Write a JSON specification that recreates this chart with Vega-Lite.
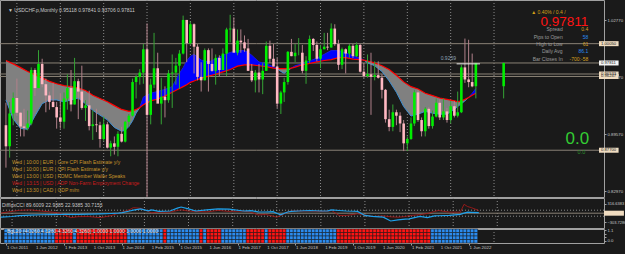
{
"$schema": "https://vega.github.io/schema/vega-lite/v6.json",
"background": "#1a1a1a",
"padding": {"left": 0, "top": 0, "right": 625, "bottom": 254},
"autosize": {"type": "none"},
"spacing": 1,
"bounds": "flush",
"config": {"view": {"stroke": "#a0a0a0", "fill": "#1a1a1a"}, "text": {"font": "Liberation Sans"}, "axis": {"labelFont": "Liberation Sans"}},
"datasets": {
"grid": [{"d":"2012-01-01"},{"d":"2013-01-01"},{"d":"2014-01-01"},{"d":"2015-01-01"},{"d":"2016-01-01"},{"d":"2017-01-01"},{"d":"2018-01-01"},{"d":"2019-01-01"},{"d":"2020-01-01"},{"d":"2021-01-01"},{"d":"2022-01-01"},{"d":"2023-01-01"}],
"xl": [{"d":"2011-10-01","t":"1 Oct 2011"},{"d":"2012-06-01","t":"1 Jun 2012"},{"d":"2013-02-01","t":"1 Feb 2013"},{"d":"2013-10-01","t":"1 Oct 2013"},{"d":"2014-06-01","t":"1 Jun 2014"},{"d":"2015-02-01","t":"1 Feb 2015"},{"d":"2015-10-01","t":"1 Oct 2015"},{"d":"2016-06-01","t":"1 Jun 2016"},{"d":"2017-02-01","t":"1 Feb 2017"},{"d":"2017-10-01","t":"1 Oct 2017"},{"d":"2018-06-01","t":"1 Jun 2018"},{"d":"2019-02-01","t":"1 Feb 2019"},{"d":"2019-10-01","t":"1 Oct 2019"},{"d":"2020-06-01","t":"1 Jun 2020"},{"d":"2021-02-01","t":"1 Feb 2021"},{"d":"2021-10-01","t":"1 Oct 2021"},{"d":"2022-06-01","t":"1 Jun 2022"}],
"levels": [{"p":1.0005},{"p":0.97811},{"p":0.96533},{"p":0.96247},{"p":0.87700}],
"hl": [{"p":1.0005,"t":"1.00050","k":"a"},{"p":0.97811,"t":"0.97811","k":"w"},{"p":0.96533,"t":"0.96533","k":"a"},{"p":0.96247,"t":"0.96247","k":"a"},{"p":0.877,"t":"0.87700","k":"a"}],
"notes": [{"k":"title","t":"▼ USDCHF.p,Monthly  0.95118 0.97841 0.93706 0.97811"},{"k":"chg","t":"▲ 0.40% / 0.4 /"},{"k":"px","t":"0.97811"},{"k":"lvl","t":"0.9259"},{"k":"z1","t":"0.0"},{"k":"z2","t":"0.0"},{"k":"cci","t":"DiffIdxCCI 89.6009 22.9385 22.9385 30.7153"},{"k":"heat","t":"BgL20 (4.0260,4.3260,4.3260,4.3260) 1.0000 1.0000 1.0000 1.0000"}],
"news": [{"n":1,"t":"Wed  |  10:00  |  EUR  |  Core CPI Flash Estimate y/y","hi":false},{"n":2,"t":"Wed  |  10:00  |  EUR  |  CPI Flash Estimate y/y","hi":false},{"n":3,"t":"Wed  |  13:00  |  USD  |  FOMC Member Waller Speaks","hi":false},{"n":4,"t":"Wed  |  13:15  |  USD  |  ADP Non-Farm Employment Change","hi":true},{"n":5,"t":"Wed  |  13:30  |  CAD  |  GDP m/m","hi":false}],
"info": [{"n":1,"k":"Spread","v":"0.4","col":"g"},{"n":2,"k":"Pips to Open","v":"58","col":"b"},{"n":3,"k":"High to Low","v":"61","col":"g"},{"n":4,"k":"Daily Avg","v":"86.1","col":"b"},{"n":5,"k":"Bar Closes In","v":"-700:-58","col":"g"}],
"seg": [{"d1":"2022-02-20","d2":"2022-09-05","p":0.9771}],
"band": [
{"d":"2011-10-01","r":0.9810,"b":0.9353,"g":1,"t":"bear"},
{"d":"2011-12-01","r":0.9771,"b":0.9133,"g":1,"t":"bear"},
{"d":"2012-02-01","r":0.9727,"b":0.9023,"g":1,"t":"bear"},
{"d":"2012-04-01","r":0.9683,"b":0.9012,"g":1,"t":"bear"},
{"d":"2012-06-01","r":0.9645,"b":0.9166,"g":1,"t":"bear"},
{"d":"2012-08-01","r":0.9606,"b":0.9309,"g":1,"t":"bear"},
{"d":"2012-10-01","r":0.9568,"b":0.9353,"g":1,"t":"bear"},
{"d":"2012-12-01","r":0.9540,"b":0.9353,"g":1,"t":"bear"},
{"d":"2013-02-01","r":0.9518,"b":0.9331,"g":1,"t":"bear"},
{"d":"2013-04-01","r":0.9507,"b":0.9353,"g":1,"t":"bear"},
{"d":"2013-06-01","r":0.9491,"b":0.9375,"g":1,"t":"bear"},
{"d":"2013-08-01","r":0.9463,"b":0.9309,"g":1,"t":"bear"},
{"d":"2013-10-01","r":0.9408,"b":0.9232,"g":1,"t":"bear"},
{"d":"2013-12-01","r":0.9370,"b":0.9177,"g":1,"t":"bear"},
{"d":"2014-02-01","r":0.9331,"b":0.9122,"g":1,"t":"bear"},
{"d":"2014-04-01","r":0.9287,"b":0.9034,"g":1,"t":"bear"},
{"d":"2014-06-01","r":0.9243,"b":0.8990,"g":1,"t":"bear"},
{"d":"2014-07-01","r":0.9232,"b":0.9001,"g":1,"t":"bear"},
{"d":"2014-08-01","r":0.9221,"b":0.9045,"g":1,"t":"bear"},
{"d":"2014-09-01","r":0.9227,"b":0.9111,"g":1,"t":"bear"},
{"d":"2014-10-01","r":0.9243,"b":0.9199,"g":1,"t":"bear"},
{"d":"2014-11-01","r":0.9265,"b":0.9265,"g":1,"t":"bear"},
{"d":"2014-11-01","r":0.9265,"b":0.9265,"g":2,"t":"bull"},
{"d":"2014-12-01","r":0.9298,"b":0.9386,"g":2,"t":"bull"},
{"d":"2015-02-01","r":0.9342,"b":0.9430,"g":2,"t":"bull"},
{"d":"2015-04-01","r":0.9364,"b":0.9452,"g":2,"t":"bull"},
{"d":"2015-06-01","r":0.9397,"b":0.9474,"g":2,"t":"bull"},
{"d":"2015-08-01","r":0.9441,"b":0.9507,"g":2,"t":"bull"},
{"d":"2015-10-01","r":0.9485,"b":0.9661,"g":2,"t":"bull"},
{"d":"2015-11-01","r":0.9507,"b":0.9727,"g":2,"t":"bull"},
{"d":"2015-12-01","r":0.9529,"b":0.9804,"g":2,"t":"bull"},
{"d":"2016-01-01","r":0.9557,"b":0.9859,"g":2,"t":"bull"},
{"d":"2016-02-01","r":0.9573,"b":0.9881,"g":2,"t":"bull"},
{"d":"2016-04-01","r":0.9606,"b":0.9815,"g":2,"t":"bull"},
{"d":"2016-06-01","r":0.9628,"b":0.9793,"g":2,"t":"bull"},
{"d":"2016-08-01","r":0.9650,"b":0.9826,"g":2,"t":"bull"},
{"d":"2016-10-01","r":0.9678,"b":0.9870,"g":2,"t":"bull"},
{"d":"2016-12-01","r":0.9705,"b":0.9903,"g":2,"t":"bull"},
{"d":"2017-02-01","r":0.9744,"b":0.9925,"g":2,"t":"bull"},
{"d":"2017-04-01","r":0.9760,"b":0.9925,"g":2,"t":"bull"},
{"d":"2017-05-01","r":0.9760,"b":0.9903,"g":2,"t":"bull"},
{"d":"2017-06-01","r":0.9760,"b":0.9870,"g":2,"t":"bull"},
{"d":"2017-08-01","r":0.9749,"b":0.9793,"g":2,"t":"bull"},
{"d":"2017-10-01","r":0.9738,"b":0.9771,"g":2,"t":"bull"},
{"d":"2017-12-01","r":0.9722,"b":0.9738,"g":2,"t":"bull"},
{"d":"2018-01-01","r":0.9716,"b":0.9716,"g":2,"t":"bull"},
{"d":"2018-01-01","r":0.9716,"b":0.9716,"g":3,"t":"bear"},
{"d":"2018-02-01","r":0.9716,"b":0.9683,"g":3,"t":"bear"},
{"d":"2018-03-01","r":0.9716,"b":0.9661,"g":3,"t":"bear"},
{"d":"2018-04-01","r":0.9716,"b":0.9694,"g":3,"t":"bear"},
{"d":"2018-05-01","r":0.9722,"b":0.9722,"g":3,"t":"bear"},
{"d":"2018-05-01","r":0.9722,"b":0.9722,"g":4,"t":"bull"},
{"d":"2018-06-01","r":0.9733,"b":0.9749,"g":4,"t":"bull"},
{"d":"2018-08-01","r":0.9760,"b":0.9771,"g":4,"t":"bull"},
{"d":"2018-10-01","r":0.9777,"b":0.9804,"g":4,"t":"bull"},
{"d":"2018-12-01","r":0.9793,"b":0.9837,"g":4,"t":"bull"},
{"d":"2019-02-01","r":0.9810,"b":0.9881,"g":4,"t":"bull"},
{"d":"2019-04-01","r":0.9821,"b":0.9925,"g":4,"t":"bull"},
{"d":"2019-06-01","r":0.9843,"b":0.9925,"g":4,"t":"bull"},
{"d":"2019-08-01","r":0.9843,"b":0.9898,"g":4,"t":"bull"},
{"d":"2019-10-01","r":0.9826,"b":0.9865,"g":4,"t":"bull"},
{"d":"2019-12-01","r":0.9821,"b":0.9837,"g":4,"t":"bull"},
{"d":"2020-01-01","r":0.9815,"b":0.9815,"g":4,"t":"bull"},
{"d":"2020-01-01","r":0.9815,"b":0.9815,"g":5,"t":"bear"},
{"d":"2020-02-01","r":0.9804,"b":0.9782,"g":5,"t":"bear"},
{"d":"2020-04-01","r":0.9782,"b":0.9749,"g":5,"t":"bear"},
{"d":"2020-06-01","r":0.9749,"b":0.9683,"g":5,"t":"bear"},
{"d":"2020-08-01","r":0.9705,"b":0.9573,"g":5,"t":"bear"},
{"d":"2020-10-01","r":0.9639,"b":0.9441,"g":5,"t":"bear"},
{"d":"2020-12-01","r":0.9562,"b":0.9276,"g":5,"t":"bear"},
{"d":"2021-02-01","r":0.9507,"b":0.9166,"g":5,"t":"bear"},
{"d":"2021-04-01","r":0.9480,"b":0.9188,"g":5,"t":"bear"},
{"d":"2021-06-01","r":0.9430,"b":0.9221,"g":5,"t":"bear"},
{"d":"2021-08-01","r":0.9403,"b":0.9199,"g":5,"t":"bear"},
{"d":"2021-10-01","r":0.9375,"b":0.9188,"g":5,"t":"bear"},
{"d":"2021-12-01","r":0.9359,"b":0.9188,"g":5,"t":"bear"},
{"d":"2022-02-01","r":0.9342,"b":0.9243,"g":5,"t":"bear"},
{"d":"2022-03-01","r":0.9331,"b":0.9276,"g":5,"t":"bear"},
{"d":"2022-04-01","r":0.9342,"b":0.9309,"g":5,"t":"bear"},
{"d":"2022-05-01","r":0.9359,"b":0.9342,"g":5,"t":"bear"},
{"d":"2022-06-01","r":0.9381,"b":0.9381,"g":5,"t":"bear"},
{"d":"2022-06-01","r":0.9381,"b":0.9381,"g":6,"t":"bull"},
{"d":"2022-07-01","r":0.9408,"b":0.9430,"g":6,"t":"bull"},
{"d":"2022-08-01","r":0.9430,"b":0.9485,"g":6,"t":"bull"}
],
"cci": [
{"d":"2011-10-01","b":-130,"r":5},{"d":"2012-01-01","b":-110,"r":60},{"d":"2012-03-01","b":-78,"r":95},{"d":"2012-06-01","b":-65,"r":110},{"d":"2012-09-01","b":-52,"r":70},{"d":"2012-12-01","b":-45,"r":35},{"d":"2013-02-01","b":-38,"r":0},{"d":"2013-05-01","b":-38,"r":-149},{"d":"2013-07-01","b":-38,"r":-115},{"d":"2013-10-01","b":-30,"r":-111},{"d":"2014-01-01","b":-22,"r":-149},{"d":"2014-04-01","b":-10,"r":-80},{"d":"2014-06-01","b":0,"r":0},{"d":"2014-07-01","b":20,"r":35},{"d":"2014-09-01","b":73,"r":120},{"d":"2014-10-01","b":100,"r":184},{"d":"2014-12-01","b":146,"r":162},{"d":"2015-02-01","b":80,"r":60},{"d":"2015-03-01","b":111,"r":13},{"d":"2015-05-01","b":58,"r":35},{"d":"2015-08-01","b":73,"r":35},{"d":"2015-10-01","b":170,"r":90},{"d":"2015-11-01","b":206,"r":111},{"d":"2016-01-01","b":146,"r":70},{"d":"2016-03-01","b":73,"r":58},{"d":"2016-06-01","b":111,"r":45},{"d":"2016-09-01","b":146,"r":90},{"d":"2016-12-01","b":133,"r":60},{"d":"2017-04-01","b":73,"r":70},{"d":"2017-06-01","b":85,"r":35},{"d":"2017-08-01","b":45,"r":-60},{"d":"2017-10-01","b":40,"r":-40},{"d":"2017-12-01","b":51,"r":-100},{"d":"2018-01-01","b":0,"r":-133},{"d":"2018-02-01","b":-55,"r":-80},{"d":"2018-04-01","b":40,"r":35},{"d":"2018-05-01","b":62,"r":73},{"d":"2018-07-01","b":73,"r":73},{"d":"2018-10-01","b":89,"r":73},{"d":"2019-01-01","b":73,"r":62},{"d":"2019-03-01","b":80,"r":73},{"d":"2019-04-01","b":111,"r":89},{"d":"2019-06-01","b":90,"r":-75},{"d":"2019-08-01","b":73,"r":-75},{"d":"2019-10-01","b":65,"r":-40},{"d":"2019-11-01","b":58,"r":-16},{"d":"2020-01-01","b":-75,"r":-60},{"d":"2020-03-01","b":-105,"r":-111},{"d":"2020-06-01","b":-133,"r":-89},{"d":"2020-08-01","b":-259,"r":-120},{"d":"2020-10-01","b":-222,"r":-133},{"d":"2020-12-01","b":-200,"r":-111},{"d":"2021-01-01","b":-190,"r":-80},{"d":"2021-04-01","b":-104,"r":-49},{"d":"2021-06-01","b":-149,"r":-10},{"d":"2021-08-01","b":-89,"r":60},{"d":"2021-09-01","b":-85,"r":89},{"d":"2021-12-01","b":-75,"r":35},{"d":"2022-03-01","b":-38,"r":35},{"d":"2022-04-01","b":0,"r":295},{"d":"2022-05-01","b":35,"r":220},{"d":"2022-06-01","b":30,"r":184},{"d":"2022-08-01","b":22,"r":89}
],
"lv": [{"v":100,"k":"d"},{"v":-100,"k":"d"},{"v":0,"k":"z"}],
"c": [
{"d":"2011-10-01","o":0.9060,"h":0.9320,"l":0.8568,"c":0.8815,"hm":"B"},
{"d":"2011-11-01","o":0.8815,"h":0.9330,"l":0.8685,"c":0.9195,"hm":"B"},
{"d":"2011-12-01","o":0.9195,"h":0.9440,"l":0.9060,"c":0.9375,"hm":"B"},
{"d":"2012-01-01","o":0.9375,"h":0.9600,"l":0.9170,"c":0.9205,"hm":"B"},
{"d":"2012-02-01","o":0.9205,"h":0.9210,"l":0.8930,"c":0.9045,"hm":"B"},
{"d":"2012-03-01","o":0.9045,"h":0.9250,"l":0.8930,"c":0.9030,"hm":"B"},
{"d":"2012-04-01","o":0.9030,"h":0.9230,"l":0.9000,"c":0.9080,"hm":"B"},
{"d":"2012-05-01","o":0.9080,"h":0.9730,"l":0.9060,"c":0.9700,"hm":"B"},
{"d":"2012-06-01","o":0.9700,"h":0.9720,"l":0.9400,"c":0.9490,"hm":"B"},
{"d":"2012-07-01","o":0.9490,"h":0.9930,"l":0.9490,"c":0.9770,"hm":"B"},
{"d":"2012-08-01","o":0.9770,"h":0.9830,"l":0.9500,"c":0.9535,"hm":"B"},
{"d":"2012-09-01","o":0.9535,"h":0.9600,"l":0.9210,"c":0.9405,"hm":"B"},
{"d":"2012-10-01","o":0.9405,"h":0.9450,"l":0.9240,"c":0.9330,"hm":"B"},
{"d":"2012-11-01","o":0.9330,"h":0.9550,"l":0.9270,"c":0.9270,"hm":"B"},
{"d":"2012-12-01","o":0.9270,"h":0.9330,"l":0.9020,"c":0.9150,"hm":"R"},
{"d":"2013-01-01","o":0.9150,"h":0.9430,"l":0.9020,"c":0.9100,"hm":"R"},
{"d":"2013-02-01","o":0.9100,"h":0.9440,"l":0.9020,"c":0.9370,"hm":"R"},
{"d":"2013-03-01","o":0.9370,"h":0.9650,"l":0.9240,"c":0.9490,"hm":"R"},
{"d":"2013-04-01","o":0.9490,"h":0.9700,"l":0.9220,"c":0.9300,"hm":"R"},
{"d":"2013-05-01","o":0.9300,"h":0.9840,"l":0.9300,"c":0.9570,"hm":"B"},
{"d":"2013-06-01","o":0.9570,"h":0.9600,"l":0.9130,"c":0.9450,"hm":"R"},
{"d":"2013-07-01","o":0.9450,"h":0.9750,"l":0.9240,"c":0.9260,"hm":"R"},
{"d":"2013-08-01","o":0.9260,"h":0.9350,"l":0.9110,"c":0.9290,"hm":"R"},
{"d":"2013-09-01","o":0.9290,"h":0.9460,"l":0.9000,"c":0.9050,"hm":"R"},
{"d":"2013-10-01","o":0.9050,"h":0.9230,"l":0.8890,"c":0.9070,"hm":"R"},
{"d":"2013-11-01","o":0.9070,"h":0.9250,"l":0.8980,"c":0.9060,"hm":"R"},
{"d":"2013-12-01","o":0.9060,"h":0.9100,"l":0.8800,"c":0.8900,"hm":"R"},
{"d":"2014-01-01","o":0.8900,"h":0.9160,"l":0.8880,"c":0.9070,"hm":"R"},
{"d":"2014-02-01","o":0.9070,"h":0.9100,"l":0.8790,"c":0.8800,"hm":"R"},
{"d":"2014-03-01","o":0.8800,"h":0.8880,"l":0.8700,"c":0.8850,"hm":"R"},
{"d":"2014-04-01","o":0.8850,"h":0.8930,"l":0.8720,"c":0.8810,"hm":"R"},
{"d":"2014-05-01","o":0.8810,"h":0.8990,"l":0.8700,"c":0.8960,"hm":"R"},
{"d":"2014-06-01","o":0.8960,"h":0.9040,"l":0.8860,"c":0.8870,"hm":"R"},
{"d":"2014-07-01","o":0.8870,"h":0.9110,"l":0.8860,"c":0.9100,"hm":"R"},
{"d":"2014-08-01","o":0.9100,"h":0.9190,"l":0.9040,"c":0.9170,"hm":"B"},
{"d":"2014-09-01","o":0.9170,"h":0.9600,"l":0.9160,"c":0.9560,"hm":"B"},
{"d":"2014-10-01","o":0.9560,"h":0.9640,"l":0.9370,"c":0.9620,"hm":"B"},
{"d":"2014-11-01","o":0.9620,"h":0.9710,"l":0.9530,"c":0.9670,"hm":"B"},
{"d":"2014-12-01","o":0.9670,"h":1.0000,"l":0.9540,"c":0.9940,"hm":"B"},
{"d":"2015-01-01","o":0.9940,"h":1.0240,"l":0.7300,"c":0.9180,"hm":"B"},
{"d":"2015-02-01","o":0.9180,"h":0.9600,"l":0.9070,"c":0.9530,"hm":"B"},
{"d":"2015-03-01","o":0.9530,"h":1.0130,"l":0.9490,"c":0.9720,"hm":"B"},
{"d":"2015-04-01","o":0.9720,"h":0.9900,"l":0.9330,"c":0.9310,"hm":"B"},
{"d":"2015-05-01","o":0.9310,"h":0.9610,"l":0.9070,"c":0.9390,"hm":"B"},
{"d":"2015-06-01","o":0.9390,"h":0.9510,"l":0.9150,"c":0.9350,"hm":"R"},
{"d":"2015-07-01","o":0.9350,"h":0.9700,"l":0.9320,"c":0.9660,"hm":"B"},
{"d":"2015-08-01","o":0.9660,"h":0.9880,"l":0.9260,"c":0.9670,"hm":"B"},
{"d":"2015-09-01","o":0.9670,"h":0.9840,"l":0.9530,"c":0.9750,"hm":"B"},
{"d":"2015-10-01","o":0.9750,"h":0.9930,"l":0.9480,"c":0.9890,"hm":"B"},
{"d":"2015-11-01","o":0.9890,"h":1.0330,"l":0.9880,"c":1.0280,"hm":"B"},
{"d":"2015-12-01","o":1.0280,"h":1.0280,"l":0.9790,"c":1.0010,"hm":"B"},
{"d":"2016-01-01","o":1.0010,"h":1.0260,"l":0.9990,"c":1.0230,"hm":"B"},
{"d":"2016-02-01","o":1.0230,"h":1.0240,"l":0.9660,"c":0.9970,"hm":"B"},
{"d":"2016-03-01","o":0.9970,"h":1.0000,"l":0.9580,"c":0.9620,"hm":"B"},
{"d":"2016-04-01","o":0.9620,"h":0.9790,"l":0.9450,"c":0.9580,"hm":"R"},
{"d":"2016-05-01","o":0.9580,"h":0.9950,"l":0.9580,"c":0.9930,"hm":"B"},
{"d":"2016-06-01","o":0.9930,"h":0.9950,"l":0.9450,"c":0.9770,"hm":"R"},
{"d":"2016-07-01","o":0.9770,"h":0.9950,"l":0.9680,"c":0.9690,"hm":"R"},
{"d":"2016-08-01","o":0.9690,"h":0.9880,"l":0.9530,"c":0.9840,"hm":"R"},
{"d":"2016-09-01","o":0.9840,"h":0.9870,"l":0.9630,"c":0.9700,"hm":"R"},
{"d":"2016-10-01","o":0.9700,"h":0.9950,"l":0.9700,"c":0.9890,"hm":"B"},
{"d":"2016-11-01","o":0.9890,"h":1.0190,"l":0.9630,"c":1.0170,"hm":"B"},
{"d":"2016-12-01","o":1.0170,"h":1.0340,"l":1.0020,"c":1.0180,"hm":"B"},
{"d":"2017-01-01","o":1.0180,"h":1.0310,"l":0.9950,"c":0.9900,"hm":"B"},
{"d":"2017-02-01","o":0.9900,"h":1.0170,"l":0.9870,"c":1.0040,"hm":"B"},
{"d":"2017-03-01","o":1.0040,"h":1.0170,"l":0.9900,"c":1.0020,"hm":"B"},
{"d":"2017-04-01","o":1.0020,"h":1.0100,"l":0.9910,"c":0.9950,"hm":"B"},
{"d":"2017-05-01","o":0.9950,"h":1.0060,"l":0.9690,"c":0.9690,"hm":"R"},
{"d":"2017-06-01","o":0.9690,"h":0.9770,"l":0.9560,"c":0.9580,"hm":"R"},
{"d":"2017-07-01","o":0.9580,"h":0.9700,"l":0.9440,"c":0.9670,"hm":"R"},
{"d":"2017-08-01","o":0.9670,"h":0.9770,"l":0.9440,"c":0.9590,"hm":"R"},
{"d":"2017-09-01","o":0.9590,"h":0.9780,"l":0.9420,"c":0.9690,"hm":"R"},
{"d":"2017-10-01","o":0.9690,"h":1.0030,"l":0.9690,"c":0.9980,"hm":"B"},
{"d":"2017-11-01","o":0.9980,"h":1.0040,"l":0.9780,"c":0.9830,"hm":"R"},
{"d":"2017-12-01","o":0.9830,"h":1.0000,"l":0.9740,"c":0.9740,"hm":"R"},
{"d":"2018-01-01","o":0.9740,"h":0.9840,"l":0.9260,"c":0.9310,"hm":"R"},
{"d":"2018-02-01","o":0.9310,"h":0.9460,"l":0.9190,"c":0.9440,"hm":"R"},
{"d":"2018-03-01","o":0.9440,"h":0.9610,"l":0.9330,"c":0.9560,"hm":"R"},
{"d":"2018-04-01","o":0.9560,"h":0.9920,"l":0.9530,"c":0.9910,"hm":"B"},
{"d":"2018-05-01","o":0.9910,"h":1.0060,"l":0.9860,"c":0.9860,"hm":"B"},
{"d":"2018-06-01","o":0.9860,"h":1.0000,"l":0.9790,"c":0.9900,"hm":"B"},
{"d":"2018-07-01","o":0.9900,"h":1.0070,"l":0.9870,"c":0.9900,"hm":"B"},
{"d":"2018-08-01","o":0.9900,"h":0.9990,"l":0.9660,"c":0.9690,"hm":"B"},
{"d":"2018-09-01","o":0.9690,"h":0.9860,"l":0.9540,"c":0.9810,"hm":"B"},
{"d":"2018-10-01","o":0.9810,"h":1.0100,"l":0.9780,"c":1.0060,"hm":"B"},
{"d":"2018-11-01","o":1.0060,"h":1.0070,"l":0.9920,"c":0.9990,"hm":"B"},
{"d":"2018-12-01","o":0.9990,"h":1.0030,"l":0.9800,"c":0.9830,"hm":"B"},
{"d":"2019-01-01","o":0.9830,"h":0.9990,"l":0.9720,"c":0.9940,"hm":"B"},
{"d":"2019-02-01","o":0.9940,"h":1.0130,"l":0.9940,"c":0.9970,"hm":"B"},
{"d":"2019-03-01","o":0.9970,"h":1.0130,"l":0.9930,"c":0.9960,"hm":"B"},
{"d":"2019-04-01","o":0.9960,"h":1.0240,"l":0.9960,"c":1.0180,"hm":"B"},
{"d":"2019-05-01","o":1.0180,"h":1.0230,"l":0.9980,"c":1.0000,"hm":"B"},
{"d":"2019-06-01","o":1.0000,"h":1.0050,"l":0.9700,"c":0.9760,"hm":"R"},
{"d":"2019-07-01","o":0.9760,"h":0.9960,"l":0.9710,"c":0.9940,"hm":"R"},
{"d":"2019-08-01","o":0.9940,"h":0.9950,"l":0.9660,"c":0.9890,"hm":"R"},
{"d":"2019-09-01","o":0.9890,"h":1.0000,"l":0.9840,"c":0.9980,"hm":"R"},
{"d":"2019-10-01","o":0.9980,"h":1.0000,"l":0.9840,"c":0.9860,"hm":"R"},
{"d":"2019-11-01","o":0.9860,"h":1.0020,"l":0.9850,"c":0.9990,"hm":"R"},
{"d":"2019-12-01","o":0.9990,"h":1.0000,"l":0.9670,"c":0.9680,"hm":"R"},
{"d":"2020-01-01","o":0.9680,"h":0.9780,"l":0.9610,"c":0.9630,"hm":"R"},
{"d":"2020-02-01","o":0.9630,"h":0.9880,"l":0.9610,"c":0.9650,"hm":"R"},
{"d":"2020-03-01","o":0.9650,"h":0.9900,"l":0.9180,"c":0.9620,"hm":"R"},
{"d":"2020-04-01","o":0.9620,"h":0.9800,"l":0.9580,"c":0.9640,"hm":"R"},
{"d":"2020-05-01","o":0.9640,"h":0.9800,"l":0.9600,"c":0.9610,"hm":"R"},
{"d":"2020-06-01","o":0.9610,"h":0.9650,"l":0.9370,"c":0.9470,"hm":"R"},
{"d":"2020-07-01","o":0.9470,"h":0.9480,"l":0.9090,"c":0.9130,"hm":"R"},
{"d":"2020-08-01","o":0.9130,"h":0.9240,"l":0.8990,"c":0.9040,"hm":"R"},
{"d":"2020-09-01","o":0.9040,"h":0.9300,"l":0.8990,"c":0.9210,"hm":"R"},
{"d":"2020-10-01","o":0.9210,"h":0.9240,"l":0.9060,"c":0.9170,"hm":"R"},
{"d":"2020-11-01","o":0.9170,"h":0.9210,"l":0.8980,"c":0.9080,"hm":"R"},
{"d":"2020-12-01","o":0.9080,"h":0.9120,"l":0.8760,"c":0.8850,"hm":"R"},
{"d":"2021-01-01","o":0.8850,"h":0.8930,"l":0.8760,"c":0.8900,"hm":"R"},
{"d":"2021-02-01","o":0.8900,"h":0.9150,"l":0.8890,"c":0.9080,"hm":"R"},
{"d":"2021-03-01","o":0.9080,"h":0.9470,"l":0.9050,"c":0.9440,"hm":"R"},
{"d":"2021-04-01","o":0.9440,"h":0.9470,"l":0.9100,"c":0.9120,"hm":"R"},
{"d":"2021-05-01","o":0.9120,"h":0.9150,"l":0.8930,"c":0.8990,"hm":"R"},
{"d":"2021-06-01","o":0.8990,"h":0.9270,"l":0.8930,"c":0.9250,"hm":"R"},
{"d":"2021-07-01","o":0.9250,"h":0.9270,"l":0.9020,"c":0.9050,"hm":"R"},
{"d":"2021-08-01","o":0.9050,"h":0.9230,"l":0.9020,"c":0.9160,"hm":"B"},
{"d":"2021-09-01","o":0.9160,"h":0.9370,"l":0.9150,"c":0.9320,"hm":"B"},
{"d":"2021-10-01","o":0.9320,"h":0.9360,"l":0.9120,"c":0.9150,"hm":"B"},
{"d":"2021-11-01","o":0.9150,"h":0.9370,"l":0.9120,"c":0.9220,"hm":"B"},
{"d":"2021-12-01","o":0.9220,"h":0.9260,"l":0.9090,"c":0.9120,"hm":"B"},
{"d":"2022-01-01","o":0.9120,"h":0.9340,"l":0.9080,"c":0.9280,"hm":"B"},
{"d":"2022-02-01","o":0.9280,"h":0.9340,"l":0.9150,"c":0.9170,"hm":"B"},
{"d":"2022-03-01","o":0.9170,"h":0.9450,"l":0.9150,"c":0.9210,"hm":"B"},
{"d":"2022-04-01","o":0.9210,"h":0.9760,"l":0.9200,"c":0.9730,"hm":"B"},
{"d":"2022-05-01","o":0.9730,"h":1.0064,"l":0.9550,"c":0.9590,"hm":"B"},
{"d":"2022-06-01","o":0.9590,"h":1.0050,"l":0.9500,"c":0.9560,"hm":"B"},
{"d":"2022-07-01","o":0.9560,"h":0.9890,"l":0.9500,"c":0.9510,"hm":"B"},
{"d":"2022-08-01","o":0.95118,"h":0.97841,"l":0.93706,"c":0.97811,"hm":"B"},
{"d":"2023-03-23","o":0.95118,"h":0.97841,"l":0.93706,"c":0.97811,"hm":null}
]
},
"vconcat": [
{
"width": 604, "height": 197,
"resolve": {"scale": {"y": "independent"}},
"layer": [
{"layer": [
{"data": {"name": "grid"}, "mark": {"type": "rule", "color": "#8c8c8c", "strokeDash": [1, 2], "strokeWidth": 1},
 "encoding": {"x": {"field": "d", "type": "temporal", "axis": null, "scale": {"type": "utc", "domain": [{"year": 2011, "month": 9, "date": 23, "utc": true}, {"year": 2025, "month": 6, "date": 3, "utc": true}]}}}},
{"data": {"name": "levels"}, "mark": {"type": "rule", "color": "#8a8276", "strokeWidth": 1},
 "encoding": {"y": {"field": "p", "type": "quantitative", "scale": {"domain": [0.8286, 1.0453], "nice": false, "zero": false},
   "axis": {"orient": "right", "values": [0.8297, 0.8462, 0.8627, 0.8792, 0.8957, 0.9122, 0.9287, 0.9452, 0.9617, 0.9782, 0.9947, 1.0112, 1.0277], "format": ".5f", "labelFontSize": 4.3, "labelColor": "#c8c8c8", "tickColor": "#a0a0a0", "tickSize": 2, "domain": false, "grid": false, "title": null, "labelPadding": 1, "labelOverlap": false}}}},
{"data": {"name": "band"}, "mark": {"type": "area", "clip": true},
 "encoding": {"x": {"field": "d", "type": "temporal"}, "y": {"field": "b", "type": "quantitative"}, "y2": {"field": "r"},
   "fill": {"field": "t", "type": "nominal", "scale": {"domain": ["bear", "bull"], "range": ["#808080", "#0000ff"]}, "legend": null},
   "detail": {"field": "g", "type": "nominal"}}},
{"data": {"name": "band"}, "mark": {"type": "line", "strokeWidth": 1, "clip": true},
 "encoding": {"x": {"field": "d", "type": "temporal"}, "y": {"field": "b", "type": "quantitative"},
   "stroke": {"field": "t", "type": "nominal", "scale": {"domain": ["bear", "bull"], "range": ["#3f8fd2", "#1818e0"]}, "legend": null},
   "detail": {"field": "g", "type": "nominal"}}},
{"data": {"name": "band"}, "mark": {"type": "line", "color": "#ff0000", "strokeWidth": 1.2, "clip": true},
 "encoding": {"x": {"field": "d", "type": "temporal"}, "y": {"field": "r", "type": "quantitative"}}},
{"data": {"name": "c"}, "mark": {"type": "rule", "strokeWidth": 1, "clip": true},
 "encoding": {"x": {"field": "d", "type": "temporal"}, "y": {"field": "l", "type": "quantitative"}, "y2": {"field": "h"},
   "stroke": {"condition": {"test": "datum.c >= datum.o", "value": "#35a335"}, "value": "#b0808a"}}},
{"data": {"name": "c"}, "mark": {"type": "bar", "width": 2.6, "clip": true},
 "encoding": {"x": {"field": "d", "type": "temporal"}, "y": {"field": "o", "type": "quantitative"}, "y2": {"field": "c"},
   "fill": {"condition": {"test": "datum.c >= datum.o", "value": "#00ee00"}, "value": "#ffb8c2"}}},
{"data": {"name": "seg"}, "mark": {"type": "rule", "color": "#e8e8e8", "strokeWidth": 1},
 "encoding": {"x": {"field": "d1", "type": "temporal"}, "x2": {"field": "d2"}, "y": {"field": "p", "type": "quantitative"}}},
{"data": {"name": "notes"}, "transform": [{"filter": "datum.k == 'title'"}], "mark": {"type": "text", "align": "left", "baseline": "middle", "fontSize": 5, "fill": "#c8c8c8"},
 "encoding": {"x": {"datum": {"year": 2011, "month": 10, "date": 18, "utc": true}, "type": "temporal"}, "y": {"datum": 1.0398, "type": "quantitative"}, "text": {"field": "t"}}},
{"data": {"name": "notes"}, "transform": [{"filter": "datum.k == 'chg'"}], "mark": {"type": "text", "align": "left", "baseline": "middle", "fontSize": 5, "fill": "#d4a017"},
 "encoding": {"x": {"datum": {"year": 2023, "month": 11, "date": 10, "utc": true}, "type": "temporal"}, "y": {"datum": 1.0376, "type": "quantitative"}, "text": {"field": "t"}}},
{"data": {"name": "notes"}, "transform": [{"filter": "datum.k == 'px'"}], "mark": {"type": "text", "align": "right", "baseline": "middle", "fontSize": 13.5, "fill": "#ff1414"},
 "encoding": {"x": {"datum": {"year": 2025, "month": 3, "date": 4, "utc": true}, "type": "temporal"}, "y": {"datum": 1.0261, "type": "quantitative"}, "text": {"field": "t"}}},
{"data": {"name": "notes"}, "transform": [{"filter": "datum.k == 'lvl'"}], "mark": {"type": "text", "align": "left", "baseline": "middle", "fontSize": 5, "fill": "#90a2b6"},
 "encoding": {"x": {"datum": {"year": 2021, "month": 10, "date": 9, "utc": true}, "type": "temporal"}, "y": {"datum": 0.9837, "type": "quantitative"}, "text": {"field": "t"}}},
{"data": {"name": "notes"}, "transform": [{"filter": "datum.k == 'z1'"}], "mark": {"type": "text", "align": "right", "baseline": "middle", "fontSize": 17, "fill": "#33cc33"},
 "encoding": {"x": {"datum": {"year": 2025, "month": 3, "date": 12, "utc": true}, "type": "temporal"}, "y": {"datum": 0.8902, "type": "quantitative"}, "text": {"field": "t"}}},
{"data": {"name": "notes"}, "transform": [{"filter": "datum.k == 'z2'"}], "mark": {"type": "text", "align": "right", "baseline": "middle", "fontSize": 5.5, "fill": "#2a8f2a"},
 "encoding": {"x": {"datum": {"year": 2025, "month": 2, "date": 7, "utc": true}, "type": "temporal"}, "y": {"datum": 0.8754, "type": "quantitative"}, "text": {"field": "t"}}},
{"data": {"name": "hl"}, "mark": {"type": "bar", "height": 5},
 "encoding": {"x": {"datum": {"year": 2025, "month": 6, "date": 3, "utc": true}, "type": "temporal"}, "x2": {"datum": {"year": 2025, "month": 11, "date": 15, "utc": true}}, "y": {"field": "p", "type": "quantitative"},
   "fill": {"condition": {"test": "datum.k == 'w'", "value": "#f4f4f4"}, "value": "#f0dcc0"}}},
{"data": {"name": "hl"}, "mark": {"type": "text", "align": "left", "baseline": "middle", "fontSize": 4.2, "fill": "#202020"},
 "encoding": {"x": {"datum": {"year": 2025, "month": 6, "date": 20, "utc": true}, "type": "temporal"}, "y": {"field": "p", "type": "quantitative"}, "text": {"field": "t"}}}
]},
{"data": {"name": "news"}, "mark": {"type": "text", "align": "left", "baseline": "middle", "fontSize": 5},
 "encoding": {"x": {"datum": {"year": 2011, "month": 11, "date": 20, "utc": true}, "type": "temporal"},
   "y": {"field": "n", "type": "ordinal", "scale": {"type": "point", "range": [162.3, 189.7], "padding": 0}, "axis": null},
   "text": {"field": "t"}, "fill": {"condition": {"test": "datum.hi", "value": "#cc1a1a"}, "value": "#c8962a"}}},
{"data": {"name": "info"}, "mark": {"type": "text", "align": "right", "baseline": "middle", "fontSize": 5, "fill": "#9a9a9a"},
 "encoding": {"x": {"datum": {"year": 2024, "month": 8, "date": 1, "utc": true}, "type": "temporal"},
   "y": {"field": "n", "type": "ordinal", "scale": {"type": "point", "range": [29.3, 58.5], "padding": 0}, "axis": null},
   "text": {"field": "k"}}},
{"data": {"name": "info"}, "mark": {"type": "text", "align": "right", "baseline": "middle", "fontSize": 5},
 "encoding": {"x": {"datum": {"year": 2025, "month": 3, "date": 4, "utc": true}, "type": "temporal"},
   "y": {"field": "n", "type": "ordinal", "scale": {"type": "point", "range": [29.3, 58.5], "padding": 0}, "axis": null},
   "text": {"field": "v"}, "fill": {"condition": {"test": "datum.col == 'b'", "value": "#2a8cf0"}, "value": "#d8a020"}}}
]
},
{
"width": 604, "height": 30,
"layer": [
{"data": {"name": "grid"}, "mark": {"type": "rule", "color": "#8c8c8c", "strokeDash": [1, 2], "strokeWidth": 1},
 "encoding": {"x": {"field": "d", "type": "temporal", "axis": null, "scale": {"type": "utc", "domain": [{"year": 2011, "month": 9, "date": 23, "utc": true}, {"year": 2025, "month": 6, "date": 3, "utc": true}]}}}},
{"data": {"name": "lv"}, "transform": [{"filter": "datum.k == 'd'"}], "mark": {"type": "rule", "color": "#8c8c8c", "strokeDash": [1, 2], "strokeWidth": 1},
 "encoding": {"y": {"field": "v", "type": "quantitative", "scale": {"domain": [-326, 339], "nice": false, "zero": false},
   "axis": {"orient": "right", "values": [316.6383, 100, 0, -100, -303.7286], "labelExpr": "datum.value == 0 ? '0.0000' : (abs(datum.value) == 100 ? format(datum.value, 'd') : format(datum.value, '.4f'))", "labelFontSize": 4, "labelColor": "#c8c8c8", "tickColor": "#a0a0a0", "tickSize": 2, "domain": false, "grid": false, "title": null, "labelPadding": 1, "labelOverlap": false}}}},
{"data": {"name": "lv"}, "transform": [{"filter": "datum.k == 'z'"}], "mark": {"type": "rule", "color": "#8a8276", "strokeWidth": 1},
 "encoding": {"y": {"field": "v", "type": "quantitative"}}},
{"data": {"name": "cci"}, "mark": {"type": "line", "color": "#a01818", "strokeWidth": 0.9},
 "encoding": {"x": {"field": "d", "type": "temporal"}, "y": {"field": "r", "type": "quantitative"}}},
{"data": {"name": "cci"}, "mark": {"type": "line", "color": "#1ea0ea", "strokeWidth": 1.2},
 "encoding": {"x": {"field": "d", "type": "temporal"}, "y": {"field": "b", "type": "quantitative"}}},
{"data": {"name": "notes"}, "transform": [{"filter": "datum.k == 'cci'"}], "mark": {"type": "text", "align": "left", "baseline": "middle", "fontSize": 5, "fill": "#c8c8c8"},
 "encoding": {"x": {"datum": {"year": 2011, "month": 10, "date": 9, "utc": true}, "type": "temporal"}, "y": {"datum": 262, "type": "quantitative"}, "text": {"field": "t"}}},
{"data": {"name": "notes"}, "transform": [{"filter": "datum.k == 'cci'"}], "mark": {"type": "bar", "height": 5, "fill": "#f0dcc0"},
 "encoding": {"x": {"datum": {"year": 2025, "month": 6, "date": 3, "utc": true}, "type": "temporal"}, "x2": {"datum": {"year": 2025, "month": 11, "date": 15, "utc": true}}, "y": {"datum": 0, "type": "quantitative"}}}
]
},
{
"width": 604, "height": 14,
"layer": [
{"data": {"name": "grid"}, "mark": {"type": "rule", "color": "#8c8c8c", "strokeDash": [1, 2], "strokeWidth": 1},
 "encoding": {"x": {"field": "d", "type": "temporal", "scale": {"type": "utc", "domain": [{"year": 2011, "month": 9, "date": 23, "utc": true}, {"year": 2025, "month": 6, "date": 3, "utc": true}]},
   "axis": {"orient": "bottom", "values": [{"year": 2011, "month": 10, "date": 1, "utc": true}, {"year": 2012, "month": 6, "date": 1, "utc": true}, {"year": 2013, "month": 2, "date": 1, "utc": true}, {"year": 2013, "month": 10, "date": 1, "utc": true}, {"year": 2014, "month": 6, "date": 1, "utc": true}, {"year": 2015, "month": 2, "date": 1, "utc": true}, {"year": 2015, "month": 10, "date": 1, "utc": true}, {"year": 2016, "month": 6, "date": 1, "utc": true}, {"year": 2017, "month": 2, "date": 1, "utc": true}, {"year": 2017, "month": 10, "date": 1, "utc": true}, {"year": 2018, "month": 6, "date": 1, "utc": true}, {"year": 2019, "month": 2, "date": 1, "utc": true}, {"year": 2019, "month": 10, "date": 1, "utc": true}, {"year": 2020, "month": 6, "date": 1, "utc": true}, {"year": 2021, "month": 2, "date": 1, "utc": true}, {"year": 2021, "month": 10, "date": 1, "utc": true}, {"year": 2022, "month": 6, "date": 1, "utc": true}],
     "labels": false, "tickColor": "#a0a0a0", "tickSize": 2, "domain": false, "grid": false, "title": null}}}},
{"data": {"name": "c"}, "transform": [{"filter": "datum.hm"}, {"fold": ["o", "h", "l", "c"]}], "mark": {"type": "bar", "width": 3.675, "stroke": "#1a1a1a", "strokeWidth": 0.5},
 "encoding": {"x": {"field": "d", "type": "temporal"},
   "y": {"field": "key", "type": "nominal", "scale": {"domain": ["o", "h", "l", "c"], "paddingInner": 0, "paddingOuter": 0},
     "axis": {"orient": "right", "labelExpr": "datum.value == 'o' ? '1.1' : (datum.value == 'c' ? '0.0' : '')", "labelFontSize": 4.3, "labelColor": "#c8c8c8", "tickColor": "#a0a0a0", "tickSize": 2, "domain": false, "grid": false, "title": null, "labelPadding": 1}},
   "fill": {"condition": {"test": "datum.hm == 'R'", "value": "#ff1414"}, "value": "#2b8cf0"}}},
{"data": {"name": "notes"}, "transform": [{"filter": "datum.k == 'heat'"}], "mark": {"type": "text", "align": "left", "baseline": "middle", "fontSize": 5, "fill": "#e8e8e8"},
 "encoding": {"x": {"datum": {"year": 2011, "month": 10, "date": 9, "utc": true}, "type": "temporal"}, "y": {"datum": "o", "type": "nominal"}, "text": {"field": "t"}}},
{"data": {"name": "xl"}, "mark": {"type": "text", "align": "left", "baseline": "middle", "fontSize": 4.4, "fill": "#c8c8c8", "dx": 1, "dy": 6.5},
 "encoding": {"x": {"field": "d", "type": "temporal"}, "y": {"datum": "c", "type": "nominal"}, "text": {"field": "t"}}}
]
}
]
}
